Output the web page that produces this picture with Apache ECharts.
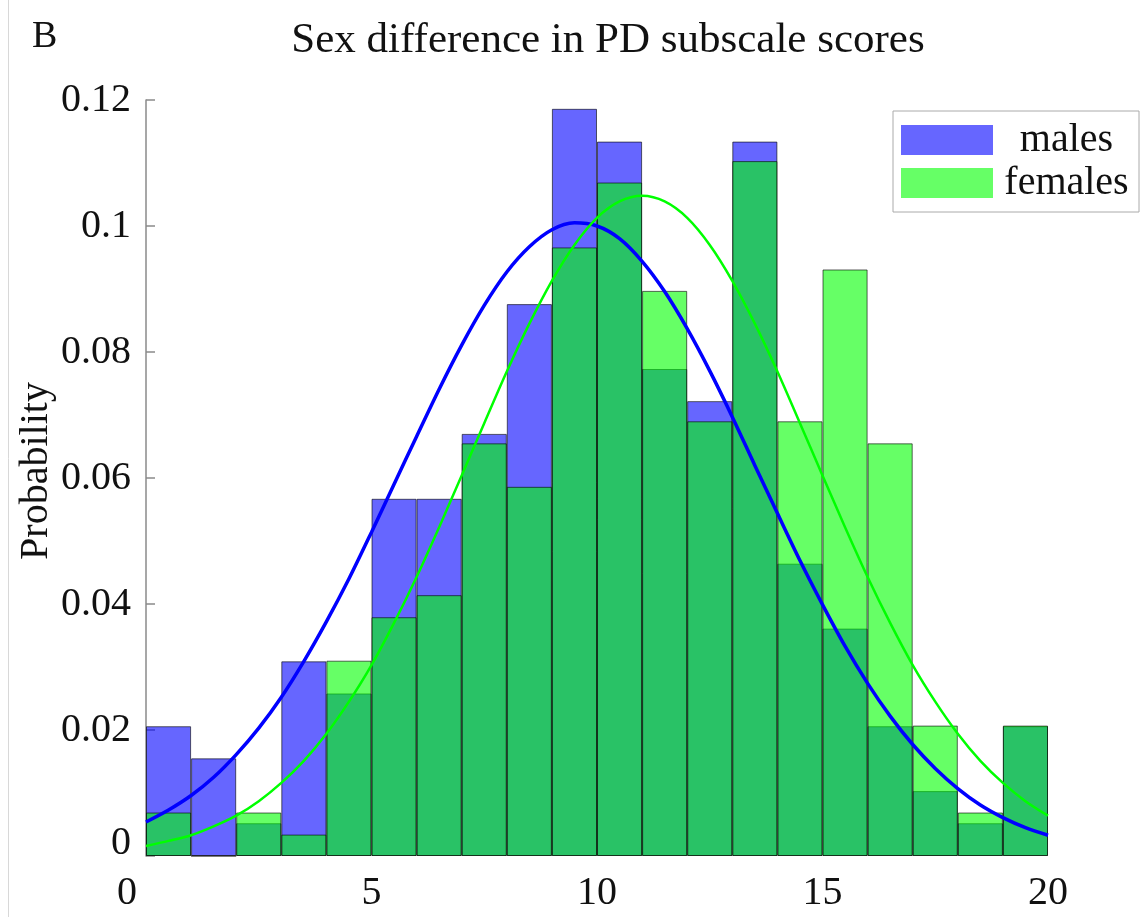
<!DOCTYPE html>
<html>
<head>
<meta charset="utf-8">
<script src="https://cdn.jsdelivr.net/npm/echarts@6/dist/echarts.min.js"></script>
<style>
  html, body { margin: 0; padding: 0; background: #fff; }
  #chart { width: 1140px; height: 917px; }
</style>
</head>
<body>
<div id="chart"></div>
<script>
// histogram bins: [0,1), [1,2) ... [19,20]
const bins = ['0', '1', '2', '3', '4', '5', '6', '7', '8', '9', '10', '11', '12', '13', '14', '15', '16', '17', '18', '19'];
const malesProb = [0.0206, 0.0155, 0.0052, 0.0309, 0.0258, 0.0567, 0.0567, 0.0670, 0.0876, 0.1186, 0.1134, 0.0773, 0.0722, 0.1134, 0.0464, 0.0361, 0.0206, 0.0103, 0.0052, 0.0206];
const femalesProb = [0.0069, 0, 0.0069, 0.0034, 0.0310, 0.0379, 0.0414, 0.0655, 0.0586, 0.0966, 0.1069, 0.0897, 0.0690, 0.1103, 0.0690, 0.0931, 0.0655, 0.0207, 0.0069, 0.0207];

// fitted curves, read every half score
const curveX = [0, 0.5, 1, 1.5, 2, 2.5, 3, 3.5, 4, 4.5, 5, 5.5, 6, 6.5, 7, 7.5, 8, 8.5, 9, 9.5, 10,
  10.5, 11, 11.5, 12, 12.5, 13, 13.5, 14, 14.5, 15, 15.5, 16, 16.5, 17, 17.5, 18, 18.5, 19, 19.5, 20];
const malesFit = [0.0054, 0.0073, 0.0096, 0.0125, 0.0161, 0.0203, 0.0252, 0.0309, 0.0372, 0.0440, 0.0514,
  0.0590, 0.0666, 0.0741, 0.0811, 0.0874, 0.0927, 0.0967, 0.0994, 0.1005, 0.1000,
  0.0980, 0.0944, 0.0896, 0.0837, 0.0770, 0.0697, 0.0620, 0.0544, 0.0469, 0.0399,
  0.0333, 0.0274, 0.0222, 0.0177, 0.0139, 0.0107, 0.0081, 0.0061, 0.0045, 0.0033];
const femalesFit = [0.0016, 0.0024, 0.0033, 0.0047, 0.0064, 0.0087, 0.0116, 0.0151, 0.0194, 0.0245, 0.0303,
  0.0370, 0.0443, 0.0522, 0.0604, 0.0687, 0.0769, 0.0845, 0.0913, 0.0970, 0.1013,
  0.1039, 0.1048, 0.1039, 0.1013, 0.0970, 0.0913, 0.0845, 0.0769, 0.0687, 0.0604,
  0.0522, 0.0443, 0.0370, 0.0303, 0.0245, 0.0194, 0.0151, 0.0116, 0.0087, 0.0064];

const serif = 'Liberation Serif, Times New Roman, DejaVu Serif, serif';

const chart = echarts.init(document.getElementById('chart'), null, { renderer: 'canvas' });
chart.setOption({
  animation: false,
  backgroundColor: '#fff',
  title: [
    {
      text: 'B',
      left: 27,
      top: 13,
      textStyle: { fontFamily: serif, fontSize: 38, fontWeight: 'normal', color: '#111' }
    },
    {
      text: 'Sex difference in PD subscale scores',
      left: 603,
      top: 14,
      textAlign: 'center',
      textStyle: { fontFamily: serif, fontSize: 43, fontWeight: 'normal', color: '#111' }
    }
  ],
  graphic: [
    {
      type: 'line',
      shape: { x1: 8.5, y1: 0, x2: 8.5, y2: 917 },
      style: { stroke: '#d8d8d8', lineWidth: 1 }
    }
  ],
  legend: {
    orient: 'vertical',
    left: 893,
    top: 111,
    padding: [9, 4, 9, 8],
    itemGap: 3,
    itemWidth: 92,
    itemHeight: 30,
    itemTextGap: 5,
    borderColor: '#aaa',
    borderWidth: 1,
    backgroundColor: '#fff',
    data: [
      { name: 'males', icon: 'rect' },
      { name: 'females', icon: 'rect' }
    ],
    itemStyle: { borderWidth: 0 },
    formatter: function (name) {
      return '{t|' + name + '}';
    },
    textStyle: {
      rich: {
        t: { width: 137, align: 'center', fontFamily: serif, fontSize: 40, lineHeight: 42, color: '#111' }
      }
    }
  },
  grid: {
    left: 146,
    right: 92,
    top: 100,
    bottom: 61
  },
  xAxis: [
    {
      type: 'value',
      min: 0,
      max: 20,
      interval: 5,
      axisLine: { show: false },
      axisTick: { show: false },
      splitLine: { show: false },
      axisLabel: {
        margin: 17,
        fontFamily: serif,
        fontSize: 40,
        color: '#111',
        formatter: function (v) {
          return v === 0 ? '{z|0}' : String(v);
        },
        rich: {
          z: { fontFamily: serif, fontSize: 40, color: '#111', padding: [0, 38, 0, 0] }
        }
      }
    },
    {
      type: 'category',
      data: bins,
      show: false,
      boundaryGap: true
    }
  ],
  yAxis: {
    type: 'value',
    min: 0,
    max: 0.12,
    interval: 0.02,
    name: 'Probability',
    nameLocation: 'middle',
    nameGap: 90,
    nameMoveOverlap: false,
    nameTextStyle: { fontFamily: serif, fontSize: 40, color: '#111', padding: [0, 0, 0, 14] },
    axisLine: { show: true, lineStyle: { color: '#8a8a8a', width: 1.5 } },
    axisTick: { show: true, inside: true, length: 9, lineStyle: { color: '#8a8a8a', width: 1.5 } },
    splitLine: { show: false },
    axisLabel: {
      margin: 15,
      fontFamily: serif,
      fontSize: 40,
      color: '#111',
      formatter: function (v) {
        return v === 0 ? '{z|0}' : String(+v.toFixed(2));
      },
      rich: {
        z: { fontFamily: serif, fontSize: 40, color: '#111', padding: [0, 0, 26, 0] }
      }
    }
  },
  series: [
    {
      name: 'males',
      type: 'bar',
      xAxisIndex: 1,
      data: malesProb,
      barGap: '-100%',
      barCategoryGap: '0%',
      itemStyle: { color: '#0000ff', opacity: 0.6, borderColor: '#000', borderWidth: 1 }
    },
    {
      name: 'females',
      type: 'bar',
      xAxisIndex: 1,
      data: femalesProb,
      barGap: '-100%',
      barCategoryGap: '0%',
      itemStyle: { color: '#00ff00', opacity: 0.6, borderColor: '#000', borderWidth: 1 }
    },
    {
      name: 'males fit',
      type: 'line',
      xAxisIndex: 0,
      data: curveX.map((x, i) => [x, malesFit[i]]),
      smooth: 0.3,
      showSymbol: false,
      lineStyle: { color: '#0000ff', width: 3.5 }
    },
    {
      name: 'females fit',
      type: 'line',
      xAxisIndex: 0,
      data: curveX.map((x, i) => [x, femalesFit[i]]),
      smooth: 0.3,
      showSymbol: false,
      lineStyle: { color: '#00ff00', width: 2.5 }
    }
  ]
});
</script>
</body>
</html>
